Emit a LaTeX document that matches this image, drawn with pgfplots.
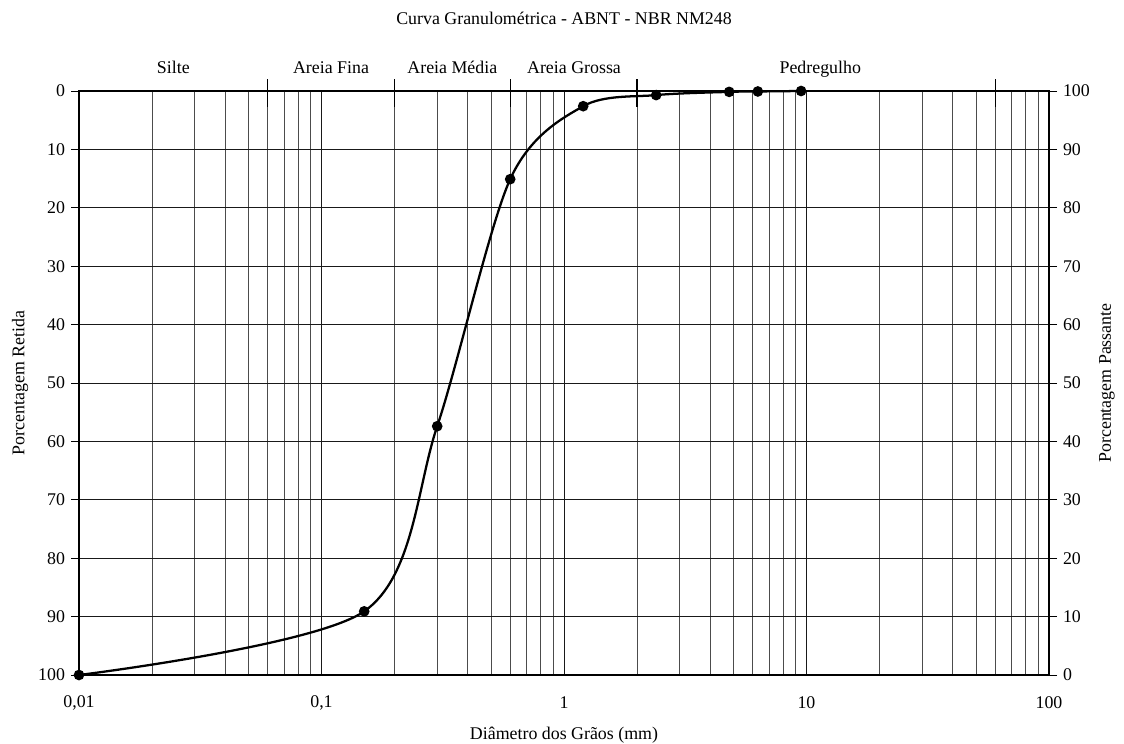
\documentclass[border=0pt]{standalone}
\usepackage{fontspec}
\setmainfont{Liberation Serif}
\usepackage{pgfplots}
\pgfplotsset{compat=1.18}

\begin{document}
\begin{tikzpicture}[font=\fontsize{13.4}{16}\selectfont]
% picture frame: 1124 x 743 px at 0.75pt per px
\useasboundingbox (-59.25pt,-51pt) rectangle (783.75pt,506.25pt);

\begin{axis}[
  at={(0,0)}, anchor=south west,
  scale only axis, width=727.5pt, height=438pt,
  xmode=log, xmin=0.01, xmax=100,
  ymin=0, ymax=100, y dir=reverse,
  ytick={0,10,...,100},
  tick align=outside,
  major tick length=6pt, minor tick length=0pt,
  /pgf/number format/assume math mode=true,
  clip=false,
  xtick={0.01,0.1,1,10,100},
  xticklabels={{0,01},{0,1},1,10,100},
  xtick style={draw=none},
  xmajorgrids, xminorgrids, ymajorgrids,
  major grid style={black!90, line width=0.55pt},
  minor grid style={black!70, line width=0.5pt},
  axis line style={black, line width=0.9pt},
  ytick style={black, line width=0.6pt},
  ytick pos=left,
  xticklabel style={anchor=center, yshift=-15pt},
  yticklabel style={anchor=east, xshift=-1pt},
  xlabel={Diâmetro dos Grãos (mm)},
  xlabel style={at={(axis description cs:0.5,0)}, anchor=center, yshift=-45pt},
  ylabel={Porcentagem Retida},
  ylabel style={at={(axis description cs:-0.0608,0.5)}, anchor=center},
  title={Curva Granulométrica - ABNT - NBR NM248},
  title style={at={(axis description cs:0.5,1)}, anchor=center, yshift=48.75pt},
]
% boundaries of the soil classes
\draw[black, line width=0.9pt] (axis cs:0.06,-2.05) -- (axis cs:0.06,2.74);
\draw[black, line width=0.9pt] (axis cs:0.2,-2.05) -- (axis cs:0.2,2.74);
\draw[black, line width=0.9pt] (axis cs:0.6,-2.05) -- (axis cs:0.6,2.74);
\draw[black, line width=0.9pt] (axis cs:2,-2.05) -- (axis cs:2,2.74);
\draw[black, line width=0.9pt] (axis cs:60,-2.05) -- (axis cs:60,2.74);
\draw[black, line width=1.6pt] (axis cs:0.052,0) -- (axis cs:0.0692,0);
\draw[black, line width=1.6pt] (axis cs:0.1735,0) -- (axis cs:0.2306,0);
\draw[black, line width=1.6pt] (axis cs:0.52,0) -- (axis cs:0.692,0);
\draw[black, line width=1.6pt] (axis cs:1.735,0) -- (axis cs:2.306,0);
\draw[black, line width=1.6pt] (axis cs:52,0) -- (axis cs:69.2,0);
\node[anchor=base] at (axis cs:0.0245,0) [yshift=13.5pt] {Silte};
\node[anchor=base] at (axis cs:0.1095,0) [yshift=13.5pt] {Areia Fina};
\node[anchor=base] at (axis cs:0.3464,0) [yshift=13.5pt] {Areia Média};
\node[anchor=base] at (axis cs:1.1,0) [yshift=13.5pt] {Areia Grossa};
\node[anchor=base] at (axis cs:11.4,0) [yshift=13.5pt] {Pedregulho};

\addplot[black, line width=1.7pt, smooth, tension=0.5, mark=*, mark size=3.1pt,
  mark options={fill=black}] coordinates {
  (0.01,100) (0.15,89.1) (0.3,57.4) (0.6,15.1) (1.2,2.6)
  (2.4,0.7) (4.8,0.15) (6.3,0.08) (9.5,0)
};
\end{axis}

\begin{axis}[
  at={(0,0)}, anchor=south west,
  scale only axis, width=727.5pt, height=438pt,
  xmin=0, xmax=1,
  ymin=0, ymax=100,
  ytick={0,10,...,100},
  tick align=outside,
  major tick length=6pt,
  /pgf/number format/assume math mode=true,
  hide x axis,
  axis y line*=right,
  axis line style={black, line width=0.9pt},
  ytick style={black, line width=0.6pt},
  yticklabel style={anchor=west, xshift=1pt},
  ylabel={Porcentagem Passante},
  ylabel style={at={(axis description cs:1.0598,0.5)}, anchor=center},
]
\end{axis}
\end{tikzpicture}
\end{document}
